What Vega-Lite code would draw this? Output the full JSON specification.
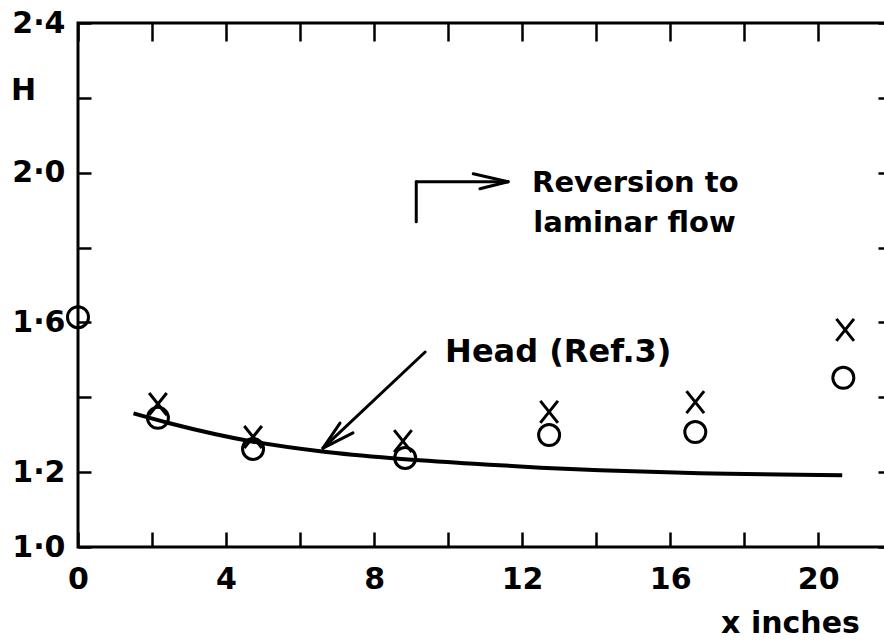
{
  "$schema": "https://vega.github.io/schema/vega-lite/v6.json",
  "autosize": {"type": "none"},
  "padding": {"left": 78, "top": 23, "right": 0, "bottom": 97},
  "width": 809,
  "height": 524,
  "background": "white",
  "config": {
    "view": {"stroke": "black", "strokeWidth": 3},
    "font": "DejaVu Sans",
    "axis": {
      "domain": false,
      "grid": false,
      "labelFlush": false,
      "tickColor": "black",
      "tickWidth": 2.5,
      "labelColor": "black",
      "labelFont": "DejaVu Sans",
      "labelFontWeight": "bold",
      "labelFontSize": 30,
      "titleColor": "black",
      "titleFont": "DejaVu Sans",
      "titleFontWeight": "bold",
      "titleFontSize": 30
    }
  },
  "datasets": {
    "curve": [
      {"x": 1.5, "H": 1.357},
      {"x": 2.5, "H": 1.33},
      {"x": 4.7, "H": 1.282},
      {"x": 6.6, "H": 1.255},
      {"x": 8.5, "H": 1.237},
      {"x": 10.8, "H": 1.222},
      {"x": 12.5, "H": 1.212},
      {"x": 14.1, "H": 1.205},
      {"x": 16.8, "H": 1.197},
      {"x": 20.65, "H": 1.192}
    ],
    "circles": [
      {"x": 0.0, "H": 1.614},
      {"x": 2.16, "H": 1.345},
      {"x": 4.73, "H": 1.262},
      {"x": 8.84, "H": 1.238},
      {"x": 12.73, "H": 1.299},
      {"x": 16.68, "H": 1.307},
      {"x": 20.68, "H": 1.452}
    ],
    "crosses": [
      {"x": 2.16, "H": 1.382},
      {"x": 4.73, "H": 1.294},
      {"x": 8.78, "H": 1.283},
      {"x": 12.73, "H": 1.361},
      {"x": 16.68, "H": 1.387},
      {"x": 20.73, "H": 1.58}
    ],
    "arrows": [
      {"x": 9.14, "H": 1.869, "x2": 9.14, "H2": 1.976},
      {"x": 9.14, "H": 1.976, "x2": 11.62, "H2": 1.976},
      {"x": 10.68, "H": 1.997, "x2": 11.62, "H2": 1.976},
      {"x": 10.86, "H": 1.957, "x2": 11.62, "H2": 1.976},
      {"x": 9.38, "H": 1.521, "x2": 6.62, "H2": 1.264},
      {"x": 7.08, "H": 1.331, "x2": 6.62, "H2": 1.264},
      {"x": 7.43, "H": 1.305, "x2": 6.62, "H2": 1.264}
    ],
    "notes": [
      {"x": 12.27, "H": 1.948, "text": "Reversion to", "size": 29},
      {"x": 12.3, "H": 1.842, "text": "laminar flow", "size": 29},
      {"x": 9.92, "H": 1.494, "text": "Head (Ref.3)", "size": 32}
    ]
  },
  "resolve": {"axis": {"x": "independent", "y": "independent"}},
  "layer": [
    {
      "data": {"name": "curve"},
      "mark": {"type": "line", "color": "black", "strokeWidth": 4, "interpolate": "monotone"},
      "encoding": {
        "x": {
          "field": "x", "type": "quantitative",
          "scale": {"domain": [0, 21.86], "nice": false, "zero": false},
          "axis": {
            "orient": "bottom",
            "values": [0, 2, 4, 6, 8, 10, 12, 14, 16, 18, 20],
            "tickSize": -15,
            "labelPadding": 32,
            "labelExpr": "datum.value % 4 == 0 ? format(datum.value, 'd') : ''",
            "title": "x inches",
            "titleX": 712,
            "titleY": 76,
            "titleAlign": "center",
            "titleBaseline": "middle"
          }
        },
        "y": {
          "field": "H", "type": "quantitative",
          "scale": {"domain": [1.0, 2.4], "nice": false, "zero": false},
          "axis": {
            "orient": "left",
            "values": [1.0, 1.2, 1.4, 1.6, 1.8, 2.0, 2.2, 2.4],
            "tickSize": -13,
            "labelPadding": 26,
            "labelBaseline": "middle",
            "labelExpr": "indexof([14, 18, 22], round(datum.value * 10)) >= 0 ? '' : replace(format(datum.value, '.1f'), '.', '·')",
            "title": "H",
            "titleAngle": 0,
            "titleX": -55,
            "titleY": 67,
            "titleAlign": "center",
            "titleBaseline": "middle"
          }
        }
      }
    },
    {
      "data": {"name": "circles"},
      "mark": {"type": "point", "shape": "circle", "filled": false, "color": "black", "strokeWidth": 3, "size": 441, "opacity": 1},
      "encoding": {
        "x": {"field": "x", "type": "quantitative", "scale": {"domain": [0, 21.86], "nice": false, "zero": false}, "axis": null},
        "y": {"field": "H", "type": "quantitative", "scale": {"domain": [1.0, 2.4], "nice": false, "zero": false}, "axis": null}
      }
    },
    {
      "data": {"name": "crosses"},
      "mark": {"type": "point", "shape": "M -0.8 -1 L 0.8 1 M 0.8 -1 L -0.8 1", "filled": false, "color": "black", "strokeWidth": 3, "size": 484, "opacity": 1},
      "encoding": {
        "x": {"field": "x", "type": "quantitative", "scale": {"domain": [0, 21.86], "nice": false, "zero": false}, "axis": null},
        "y": {"field": "H", "type": "quantitative", "scale": {"domain": [1.0, 2.4], "nice": false, "zero": false}, "axis": null}
      }
    },
    {
      "data": {"name": "arrows"},
      "mark": {"type": "rule", "color": "black", "strokeWidth": 3, "strokeCap": "round"},
      "encoding": {
        "x": {"field": "x", "type": "quantitative", "scale": {"domain": [0, 21.86], "nice": false, "zero": false}, "axis": null},
        "y": {"field": "H", "type": "quantitative", "scale": {"domain": [1.0, 2.4], "nice": false, "zero": false}, "axis": null},
        "x2": {"field": "x2"},
        "y2": {"field": "H2"}
      }
    },
    {
      "data": {"name": "notes"},
      "mark": {"type": "text", "align": "left", "baseline": "alphabetic", "font": "DejaVu Sans", "fontWeight": "bold", "color": "black"},
      "encoding": {
        "x": {
          "field": "x", "type": "quantitative",
          "scale": {"domain": [0, 21.86], "nice": false, "zero": false},
          "axis": {
            "orient": "top",
            "values": [0, 2, 4, 6, 8, 10, 12, 14, 16, 18, 20],
            "tickSize": -18,
            "labels": false,
            "title": null
          }
        },
        "y": {
          "field": "H", "type": "quantitative",
          "scale": {"domain": [1.0, 2.4], "nice": false, "zero": false},
          "axis": {
            "orient": "right",
            "values": [1.0, 1.2, 1.4, 1.6, 1.8, 2.0, 2.2, 2.4],
            "tickSize": -9,
            "labels": false,
            "title": null
          }
        },
        "text": {"field": "text"},
        "size": {"field": "size", "type": "quantitative", "scale": null}
      }
    }
  ]
}
